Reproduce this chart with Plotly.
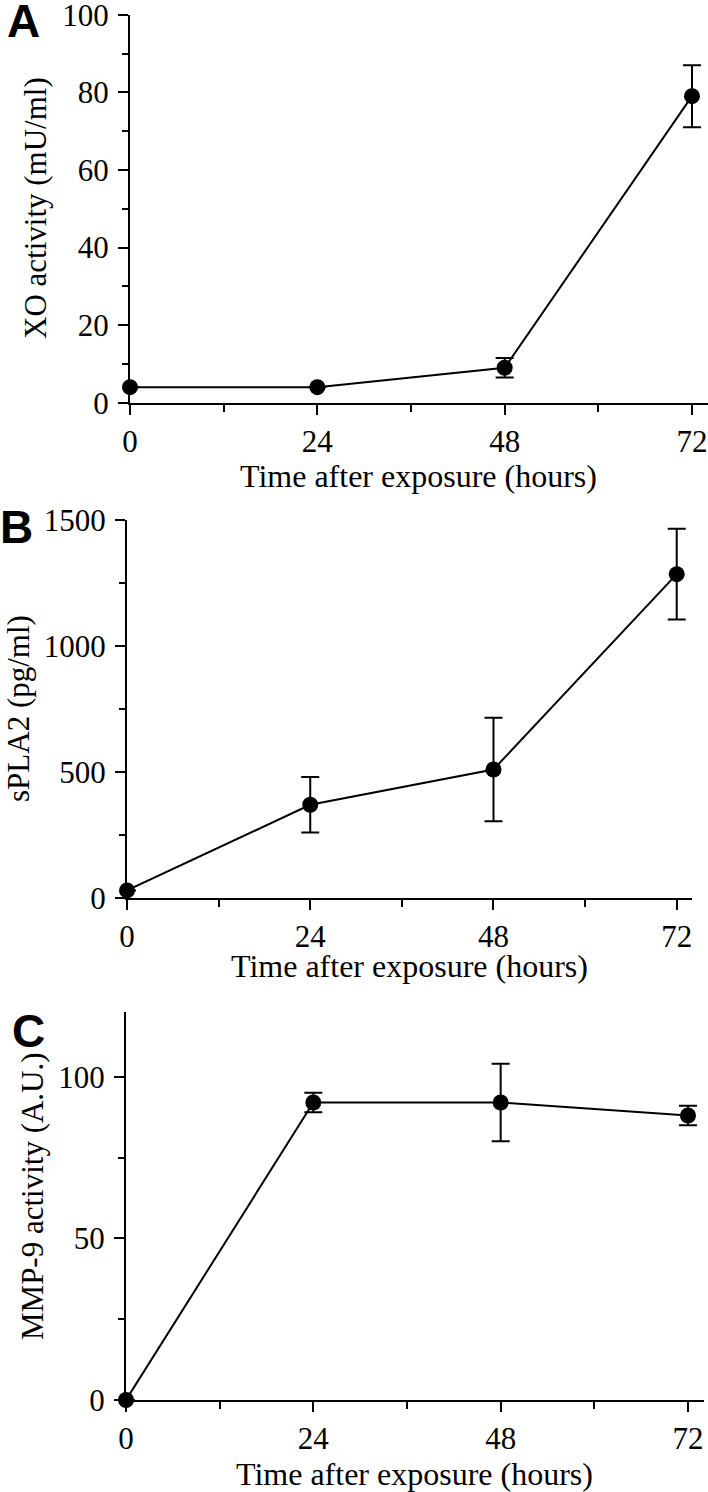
import plotly.graph_objects as go

W, H = 708, 1492

hours = [0, 24, 48, 72]

xo_activity = [4, 4, 9, 79]
xo_err = [0, 0, 2.5, 8]

spla2 = [30, 370, 510, 1285]
spla2_err = [0, 110, 205, 180]

mmp9 = [0, 92, 92, 88]
mmp9_err = [0, 3, 12, 3]

x_title = "Time after exposure (hours)"
y_titles = ["XO activity (mU/ml)", "sPLA2 (pg/ml)", "MMP-9 activity (A.U.)"]
panel_letters = ["A", "B", "C"]

SERIF = "Liberation Serif, Times New Roman, serif"
SANS = "Liberation Sans, Arial, sans-serif"
TICKFONT = dict(family=SERIF, size=31, color="black")


def px_x(p):
    return p / W


def px_y(p):
    return 1 - p / H


panels = [
    dict(data=xo_activity, err=xo_err, xdom=(130, 707.6), ydom=(14.7, 402.7),
         yrange=[0, 100], dtick=20, minor=10),
    dict(data=spla2, err=spla2_err, xdom=(127, 692), ydom=(520, 898),
         yrange=[0, 1500], dtick=500, minor=250),
    dict(data=mmp9, err=mmp9_err, xdom=(126, 703.6), ydom=(1012, 1400),
         yrange=[0, 120], dtick=50, minor=25),
]

fig = go.Figure()
layout = dict(
    width=W, height=H,
    margin=dict(l=0, r=0, t=0, b=0, pad=0, autoexpand=False),
    paper_bgcolor="white", plot_bgcolor="white",
    showlegend=False,
)
annotations = []

ytitle_x = [36, 19, 32]
ytitle_y = [208, 709, 1196]
xtitle_y = [476, 966, 1474]
letter_pos = [(23, 21), (16, 527), (28, 1031)]

for i, p in enumerate(panels):
    n = "" if i == 0 else str(i + 1)
    xa = "x" + n
    ya = "y" + n
    fig.add_trace(go.Scatter(
        x=hours, y=p["data"], xaxis=xa, yaxis=ya,
        mode="lines+markers",
        line=dict(color="black", width=2),
        marker=dict(color="black", size=16, symbol="circle"),
        error_y=dict(type="data", array=p["err"], symmetric=True,
                     color="black", thickness=2, width=9),
        cliponaxis=False,
    ))
    layout["xaxis" + n] = dict(
        domain=[px_x(p["xdom"][0]), px_x(p["xdom"][1])],
        anchor=ya, range=[0, 74], automargin=False,
        tickmode="linear", tick0=0, dtick=24,
        ticks="outside", ticklen=10, tickwidth=2, tickcolor="black",
        minor=dict(dtick=12, tick0=0, ticks="outside", ticklen=7,
                   tickwidth=2, tickcolor="black"),
        showline=True, linewidth=2, linecolor="black",
        showgrid=False, zeroline=False,
        tickfont=TICKFONT, ticklabelstandoff=0, ticklabeloverflow="allow",
        fixedrange=True,
    )
    layout["yaxis" + n] = dict(
        domain=[px_y(p["ydom"][1]), px_y(p["ydom"][0])],
        anchor=xa, range=p["yrange"], automargin=False,
        tickmode="linear", tick0=0, dtick=p["dtick"],
        ticks="outside", ticklen=10, tickwidth=2, tickcolor="black",
        minor=dict(dtick=p["minor"], tick0=0, ticks="outside", ticklen=6,
                   tickwidth=2, tickcolor="black"),
        showline=True, linewidth=2, linecolor="black",
        showgrid=False, zeroline=False,
        tickfont=TICKFONT, ticklabelstandoff=3, ticklabeloverflow="allow",
        fixedrange=True,
    )
    xmid = (p["xdom"][0] + p["xdom"][1]) / 2
    annotations.append(dict(
        text=x_title, x=px_x(xmid), y=px_y(xtitle_y[i]),
        xref="paper", yref="paper", xanchor="center", yanchor="middle",
        showarrow=False, font=dict(family=SERIF, size=32, color="black"),
    ))
    annotations.append(dict(
        text=y_titles[i], x=px_x(ytitle_x[i]), y=px_y(ytitle_y[i]),
        xref="paper", yref="paper", xanchor="center", yanchor="middle",
        textangle=-90, showarrow=False,
        font=dict(family=SERIF, size=31, color="black"),
    ))
    lx, ly = letter_pos[i]
    annotations.append(dict(
        text="<b>%s</b>" % panel_letters[i], x=px_x(lx), y=px_y(ly),
        xref="paper", yref="paper", xanchor="center", yanchor="middle",
        showarrow=False, font=dict(family=SANS, size=46, color="black"),
    ))

layout["annotations"] = annotations
fig.update_layout(**layout)
fig.write_html(
    "out.html",
    config={"displayModeBar": False, "staticPlot": True},
    post_script="document.body.style.margin='0';document.body.style.overflow='hidden';",
)
